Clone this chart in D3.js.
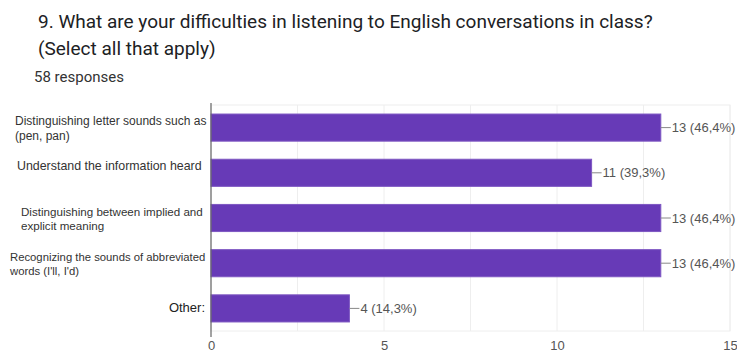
<!DOCTYPE html>
<html><head><meta charset="utf-8">
<script src="https://cdn.jsdelivr.net/npm/d3@7"></script>
<style>
body{margin:0;background:#fff;}
svg{display:block;}
</style></head><body>
<svg id="c" width="737" height="352"></svg>
<script>
const titleLines = ["9. What are your difficulties in listening to English conversations in class?", "(Select all that apply)"];
const subtitle = "58 responses";
const categories = [
  ["Distinguishing letter sounds such as", "(pen, pan)"],
  ["Understand the information heard"],
  ["Distinguishing between implied and", "explicit meaning"],
  ["Recognizing the sounds of abbreviated", "words (I'll, I'd)"],
  ["Other:"]
];
const values = [13, 11, 13, 13, 4];
const valueLabels = ["13 (46,4%)", "11 (39,3%)", "13 (46,4%)", "13 (46,4%)", "4 (14,3%)"];
const xTicks = [0, 5, 10, 15];
const gridTicks = [2.5, 5, 7.5, 10, 12.5, 15];

// styles (not data)
const labelX = [15, 17, 21, 10, 205];
const labelSize = [12, 12.4, 11.6, 11.3, 13];

const svg = d3.select("#c");
const font = "Roboto, 'Liberation Sans', Arial, sans-serif";
const lab = "'Liberation Sans', Arial, sans-serif";

svg.selectAll("text.title").data(titleLines).join("text")
  .attr("class", "title")
  .attr("x", 38).attr("y", (d, i) => 28 + i * 27)
  .attr("font-family", font).attr("font-size", 19).attr("fill", "#202124")
  .text(d => d);
svg.append("text").attr("x", 34).attr("y", 82)
  .attr("font-family", font).attr("font-size", 15).attr("fill", "#333")
  .text(subtitle);

const pLeft = 211, pRight = 730, pTop = 105, pBottom = 331;
const x = d3.scaleLinear().domain([0, 15]).range([pLeft, pRight]);
const idx = d3.range(categories.length);
const y = d3.scaleBand().domain(idx).range([pTop, pBottom]).paddingInner(0.4).paddingOuter(0.2);

svg.append("rect").attr("x", pLeft).attr("y", pTop).attr("width", pRight - pLeft).attr("height", pBottom - pTop)
  .attr("fill", "none").attr("stroke", "#eeeeee");
svg.selectAll("line.grid").data(gridTicks).join("line")
  .attr("class", "grid")
  .attr("x1", d => x(d)).attr("x2", d => x(d)).attr("y1", pTop).attr("y2", pBottom)
  .attr("stroke", "#eeeeee");

svg.selectAll("rect.bar").data(values).join("rect")
  .attr("class", "bar")
  .attr("x", x(0)).attr("y", (d, i) => y(i))
  .attr("width", d => x(d) - x(0)).attr("height", y.bandwidth())
  .attr("fill", "#673ab7").attr("stroke", "#7e57c2").attr("stroke-width", 1);

svg.selectAll("line.lead").data(values).join("line")
  .attr("class", "lead")
  .attr("x1", d => x(d)).attr("x2", d => x(d) + 10)
  .attr("y1", (d, i) => y(i) + y.bandwidth() / 2).attr("y2", (d, i) => y(i) + y.bandwidth() / 2)
  .attr("stroke", "#888").attr("stroke-width", 1);
svg.selectAll("text.val").data(values).join("text")
  .attr("class", "val")
  .attr("x", d => x(d) + 11).attr("y", (d, i) => y(i) + y.bandwidth() / 2 + 4.6)
  .attr("font-family", lab).attr("font-size", 13).attr("fill", "#555")
  .text((d, i) => valueLabels[i]);

svg.append("line").attr("x1", pLeft).attr("x2", pLeft).attr("y1", pTop - 2).attr("y2", pBottom + 6)
  .attr("stroke", "#666").attr("stroke-width", 1.2);

const xAxis = d3.axisBottom(x).tickValues(xTicks).tickSize(0).tickFormat(d3.format("d"));
const ga = svg.append("g").attr("transform", `translate(0,${pBottom})`).call(xAxis);
ga.select(".domain").remove();
ga.selectAll("text").attr("font-family", lab).attr("font-size", 13).attr("fill", "#555")
  .attr("y", 19).attr("dy", 0);

categories.forEach((lines, i) => {
  const cy = y(i) + y.bandwidth() / 2;
  if (lines.length === 1 && i === categories.length - 1) {
    svg.append("text").attr("x", labelX[i]).attr("y", cy + 4).attr("text-anchor", "end")
      .attr("font-family", lab).attr("font-size", labelSize[i]).attr("fill", "#222").text(lines[0]);
    return;
  }
  lines.forEach((t, j) => {
    const yy = cy - 2.5 + j * 14.5;
    svg.append("text").attr("x", labelX[i]).attr("y", yy)
      .attr("font-family", lab).attr("font-size", labelSize[i]).attr("fill", "#333")
      .text(t);
  });
});
</script></body></html>
